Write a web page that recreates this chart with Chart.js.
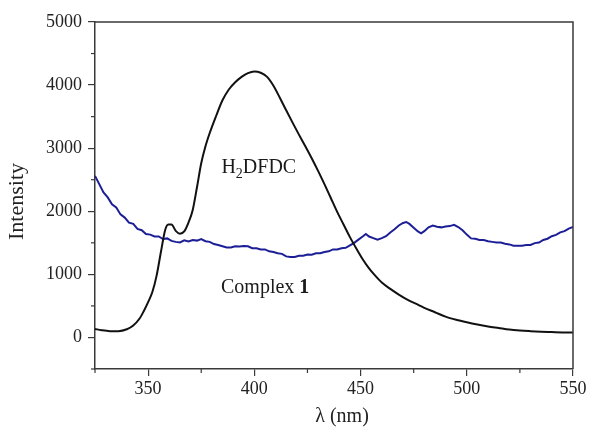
<!DOCTYPE html>
<html>
<head>
<meta charset="utf-8">
<script src="https://cdn.jsdelivr.net/npm/chart.js@4.4.1/dist/chart.umd.min.js"></script>
<style>
    html, body { margin: 0; padding: 0; background: #fff; }
</style>
</head>
<body>
<canvas id="Spectrum_Chart" width="590" height="430"></canvas>
<script>
// H2DFDC (black)
const ligandWavelength = [325, 328, 332, 336, 340, 343, 346, 348, 350, 352, 354, 356, 358, 359.5, 361, 363, 365, 367, 369, 371,
    373, 375, 377, 379, 382, 385, 388, 391, 394, 397, 400, 403, 406, 409, 412, 415, 418, 421, 424, 427,
    430, 433, 436, 439, 442, 445, 448, 451, 454, 457, 460, 464, 468, 472, 476, 480, 485, 490, 495, 500,
    505, 510, 515, 520, 525, 530, 535, 540, 545, 550];
const ligandIntensity = [135, 115, 100, 100, 130, 190, 300, 420, 560, 720, 980, 1350, 1700, 1790, 1790, 1690, 1645, 1680, 1820, 2020,
    2380, 2760, 3030, 3240, 3510, 3760, 3930, 4045, 4130, 4190, 4215, 4195, 4130, 3990, 3800, 3600, 3405, 3215, 3030, 2840,
    2640, 2430, 2210, 1990, 1790, 1590, 1410, 1240, 1095, 975, 870, 770, 680, 600, 535, 470, 400, 330, 280, 240,
    205, 175, 150, 125, 110, 100, 92, 86, 80, 77];

// Complex 1 (blue)
const complexWavelength = [325, 327, 329, 331, 333, 335, 337, 339, 341, 343, 345, 347, 349, 351, 353, 355, 357, 359, 361, 363,
    365, 367, 369, 371, 373, 375, 377, 379, 381, 383, 385, 387, 389, 391, 393, 395, 397, 399, 401, 403,
    405, 407, 409, 411, 413, 415, 417, 419, 421, 423, 425, 427, 429, 431, 433, 435, 437, 439, 441, 443,
    445, 447, 449, 451, 452.5, 454, 456, 458, 460, 462, 464, 466, 468, 470, 471.5, 473, 475, 477, 478.5, 480,
    482, 484, 486, 488, 490, 492, 494, 496, 498, 500, 502, 504, 506, 508, 510, 512, 514, 516, 518, 520,
    522, 524, 526, 528, 530, 532, 534, 536, 538, 540, 542, 544, 546, 548, 550];
const complexIntensity = [2560, 2430, 2300, 2220, 2110, 2060, 1950, 1900, 1820, 1800, 1720, 1700, 1640, 1630, 1600, 1600, 1560, 1570, 1530, 1515,
    1505, 1540, 1520, 1545, 1535, 1560, 1525, 1515, 1480, 1465, 1445, 1425, 1425, 1445, 1440, 1450, 1445, 1415, 1415, 1395,
    1395, 1365, 1355, 1335, 1325, 1285, 1275, 1275, 1295, 1295, 1315, 1310, 1335, 1335, 1355, 1365, 1395, 1395, 1415, 1420,
    1460, 1500, 1550, 1600, 1640, 1600, 1575, 1550, 1575, 1605, 1665, 1715, 1775, 1815, 1830, 1800, 1740, 1680, 1650, 1685,
    1745, 1775, 1755, 1745, 1760, 1765, 1785, 1750, 1700, 1630, 1570, 1565, 1545, 1545, 1525, 1515, 1505, 1505, 1485, 1475,
    1455, 1455, 1455, 1465, 1465, 1495, 1505, 1545, 1565, 1605, 1625, 1665, 1685, 1725, 1750];

const xTickLabels = [350, 400, 450, 500, 550];
const yTickLabels = [0, 1000, 2000, 3000, 4000, 5000];

const axisColor = '#3a3a3a';
const textColor = '#222';
const serif = "'Liberation Serif', 'DejaVu Serif', serif";

function toPoints(xs, ys) {
    return xs.map((x, i) => ({ x: x, y: ys[i] }));
}

// frame on top/right, short minor ticks, axis titles and curve labels
const framePlugin = {
    id: 'frame',
    afterDraw(chart) {
        const { ctx, chartArea: a, scales } = chart;
        ctx.save();
        ctx.strokeStyle = axisColor;
        ctx.lineWidth = 1.5;
        ctx.beginPath();
        ctx.moveTo(a.left, a.top);
        ctx.lineTo(a.right, a.top);
        ctx.lineTo(a.right, a.bottom);
        ctx.stroke();

        ctx.lineWidth = 1.2;
        scales.x.ticks.forEach(t => {
            if (t.value % 50 !== 0) {
                const px = scales.x.getPixelForValue(t.value);
                ctx.beginPath();
                ctx.moveTo(px, a.bottom);
                ctx.lineTo(px, a.bottom + 4);
                ctx.stroke();
            }
        });
        scales.y.ticks.forEach(t => {
            if (t.value % 1000 !== 0) {
                const py = scales.y.getPixelForValue(t.value);
                ctx.beginPath();
                ctx.moveTo(a.left, py);
                ctx.lineTo(a.left - 4, py);
                ctx.stroke();
            }
        });

        // axis titles
        ctx.fillStyle = textColor;
        ctx.textAlign = 'center';
        ctx.textBaseline = 'middle';
        ctx.font = '20px ' + serif;
        ctx.fillText('λ (nm)', a.left + (a.right - a.left) / 2 + 8, 417);
        ctx.save();
        ctx.translate(17, a.top + (a.bottom - a.top) / 2 + 6);
        ctx.rotate(-Math.PI / 2);
        ctx.font = '22px ' + serif;
        ctx.fillText('Intensity', 0, 0);
        ctx.restore();

        // H2DFDC label
        ctx.fillStyle = '#1a1a1a';
        ctx.textBaseline = 'alphabetic';
        ctx.textAlign = 'left';
        let x = scales.x.getPixelForValue(384.5);
        let y = scales.y.getPixelForValue(2610);
        ctx.font = '20px ' + serif;
        ctx.fillText('H', x, y);
        x += ctx.measureText('H').width;
        ctx.font = '14px ' + serif;
        ctx.fillText('2', x, y + 5);
        x += ctx.measureText('2').width;
        ctx.font = '20px ' + serif;
        ctx.fillText('DFDC', x, y);

        // Complex 1 label
        x = scales.x.getPixelForValue(384.3);
        y = scales.y.getPixelForValue(705);
        ctx.font = '20px ' + serif;
        ctx.fillText('Complex ', x, y);
        x += ctx.measureText('Complex ').width;
        ctx.font = 'bold 20px ' + serif;
        ctx.fillText('1', x, y);
        ctx.restore();
    }
};

const ctx = document.getElementById('Spectrum_Chart').getContext('2d');
new Chart(ctx, {
    type: 'line',
    data: {
        datasets: [{
            label: 'H2DFDC',
            data: toPoints(ligandWavelength, ligandIntensity),
            borderColor: '#111111',
            borderWidth: 2,
            pointRadius: 0,
            cubicInterpolationMode: 'monotone',
            fill: false
        }, {
            label: 'Complex 1',
            data: toPoints(complexWavelength, complexIntensity),
            borderColor: 'rgb(28, 30, 150)',
            borderWidth: 2,
            pointRadius: 0,
            tension: 0,
            fill: false
        }]
    },
    options: {
        responsive: false,
        animation: false,
        layout: { padding: { top: 22, right: 17, left: 0, bottom: 0 } },
        plugins: {
            legend: { display: false },
            tooltip: { enabled: false }
        },
        scales: {
            x: {
                type: 'linear',
                min: 325,
                max: 550,
                afterFit: scale => { scale.height = 61; },
                border: { display: true, color: axisColor, width: 1.5 },
                grid: {
                    drawOnChartArea: false,
                    tickLength: 7,
                    lineWidth: 1.2,
                    color: c => (c.tick && c.tick.value % 50 === 0) ? axisColor : 'rgba(0,0,0,0)'
                },
                ticks: {
                    stepSize: 25,
                    maxRotation: 0,
                    autoSkip: false,
                    padding: 2,
                    color: textColor,
                    font: { family: serif, size: 18 },
                    callback: v => xTickLabels.includes(v) ? String(v) : ''
                }
            },
            y: {
                min: -500,
                max: 5000,
                afterFit: scale => { scale.width = 95; },
                border: { display: true, color: axisColor, width: 1.5 },
                grid: {
                    drawOnChartArea: false,
                    tickLength: 7,
                    lineWidth: 1.2,
                    color: c => (c.tick && c.tick.value % 1000 === 0) ? axisColor : 'rgba(0,0,0,0)'
                },
                ticks: {
                    stepSize: 500,
                    autoSkip: false,
                    padding: 6,
                    color: textColor,
                    font: { family: serif, size: 18 },
                    callback: v => yTickLabels.includes(v) ? String(v) : ''
                }
            }
        }
    },
    plugins: [framePlugin]
});
</script>
</body>
</html>
